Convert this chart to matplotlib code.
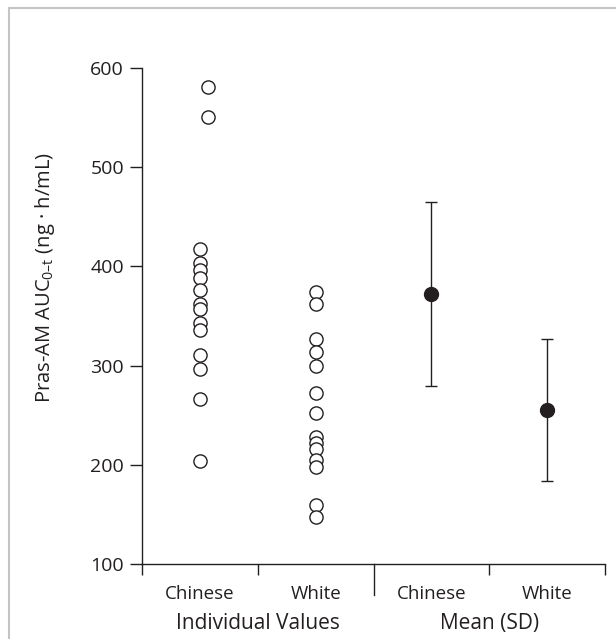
import matplotlib
matplotlib.use("Agg")
import matplotlib.pyplot as plt
from matplotlib.lines import Line2D

FONT = 'Open Sans'
plt.rcParams['font.family'] = [FONT, 'DejaVu Sans']
plt.rcParams['mathtext.fontset'] = 'custom'
plt.rcParams['mathtext.rm'] = FONT
plt.rcParams['mathtext.it'] = FONT
plt.rcParams['mathtext.default'] = 'rm'

# ---- data ----
categories = ["Chinese", "White", "Chinese", "White"]
groups = ["Individual Values", "Mean (SD)"]
chinese_values = [581, 551, 418, 403, 396, 388, 376, 362, 357, 343, 336, 311, 297, 266, 204]
chinese_offsets = [0.07, 0.07, 0, 0, 0, 0, 0, 0, 0, 0, 0, 0, 0, 0, 0]
white_values = [374, 362, 327, 314, 300, 272, 252, 228, 222, 216, 205, 198, 159, 147]
mean_values = [372, 255]
sd_values = [93, 71.5]
yticks = [100, 200, 300, 400, 500, 600]
ylabel = "Pras-AM AUC$_{\\mathrm{0\u2013t}}$ (ng \u00b7 h/mL)"

ink = "#231f20"

fig = plt.figure(figsize=(6.16, 6.39), dpi=100)
ax = fig.add_axes([142/616, 1-564/639, (605-142)/616, (564-68)/639])

# individual values
ax.plot([0 + o for o in chinese_offsets], chinese_values, 'o', ms=9.5,
        mfc='white', mec=ink, mew=1.0, ls='none', zorder=3)
ax.plot([1] * len(white_values), white_values, 'o', ms=9.5,
        mfc='white', mec=ink, mew=1.0, ls='none', zorder=3)

# mean (SD)
ax.errorbar([2, 3], mean_values, yerr=sd_values, fmt='o', ms=10,
            color=ink, mfc=ink, mec=ink, ecolor=ink, elinewidth=1.0,
            capsize=4.3, capthick=1.0, zorder=3)

ax.set_xlim(-0.5, 3.5)
ax.set_ylim(100, 600)
ax.set_yticks(yticks)
ax.tick_params(axis='y', direction='out', length=9, width=1.0, colors=ink,
               labelsize=14, pad=4)

ax.set_xticks([-0.5, 0.5, 2.5, 3.5])
ax.set_xticklabels([])
ax.tick_params(axis='x', direction='out', length=8, width=1.0, colors=ink)
ax.set_xticks([0, 1, 2, 3], minor=True)
ax.set_xticklabels(categories, minor=True)
ax.tick_params(axis='x', which='minor', length=0, labelsize=13.5, pad=15,
               labelcolor=ink)

# long middle separator tick
ax.plot([1.5, 1.5], [0, -0.062], transform=ax.get_xaxis_transform(),
        color=ink, lw=1.0, clip_on=False)

for sp in ['top', 'right']:
    ax.spines[sp].set_visible(False)
for sp in ['left', 'bottom']:
    ax.spines[sp].set_color(ink)
    ax.spines[sp].set_linewidth(1.0)

# group labels
ax.text(0.5, -0.12, groups[0], transform=ax.get_xaxis_transform(),
        ha='center', va='center', fontsize=15, color=ink)
ax.text(2.5, -0.12, groups[1], transform=ax.get_xaxis_transform(),
        ha='center', va='center', fontsize=15, color=ink)

fig.text(45/616, 1-278/639, ylabel, rotation=90, ha='center', va='center',
         fontsize=14.5, color=ink)

# outer frame (top and left gray lines)
fig.add_artist(Line2D([9/616, 9/616], [0, 1-8/639], transform=fig.transFigure,
                      color='#c4c4c4', lw=1.5))
fig.add_artist(Line2D([9/616, 1], [1-8/639, 1-8/639], transform=fig.transFigure,
                      color='#c4c4c4', lw=1.5))

fig.savefig("out.png", dpi=100)
